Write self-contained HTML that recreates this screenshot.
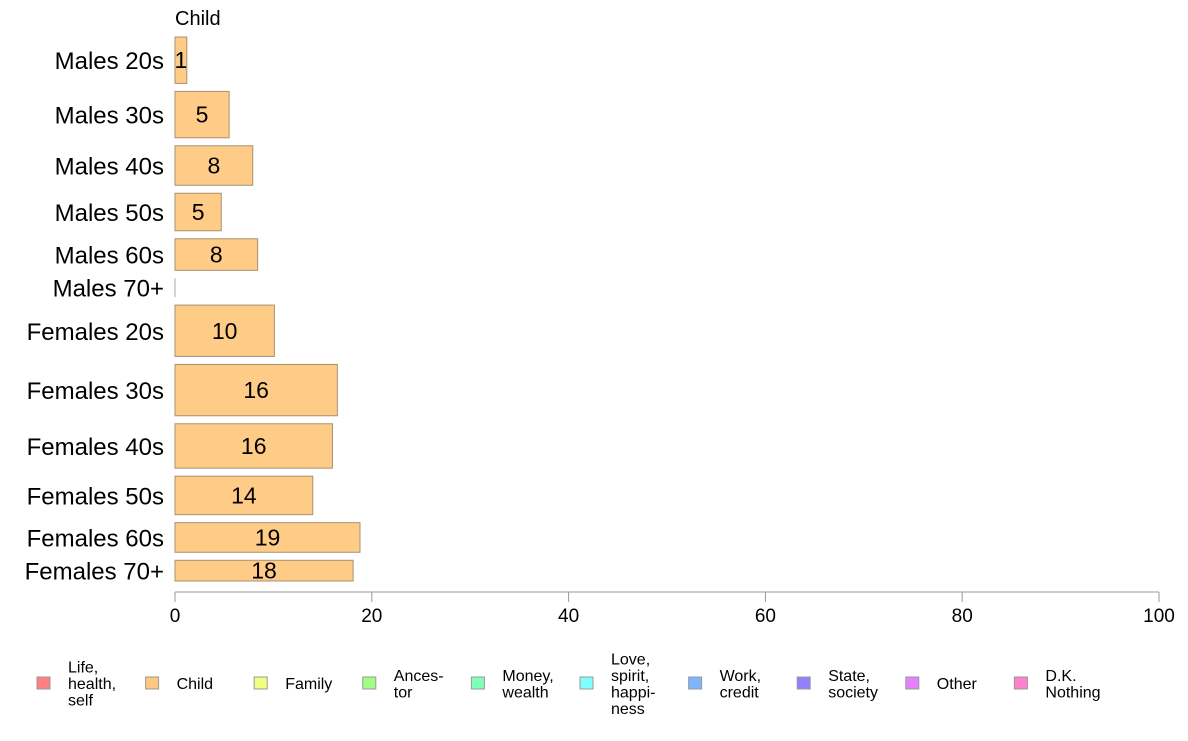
<!DOCTYPE html>
<html><head><meta charset="utf-8"><style>
body{margin:0;background:#fff}
svg text{font-family:"Liberation Sans",Arial,sans-serif;fill:#000}
</style></head><body>
<svg id="chart" width="1188" height="736" xmlns="http://www.w3.org/2000/svg"></svg>
<script>
const categories=["Males 20s","Males 30s","Males 40s","Males 50s","Males 60s","Males 70+","Females 20s","Females 30s","Females 40s","Females 50s","Females 60s","Females 70+"];
const values=[1.2,5.5,7.9,4.7,8.4,0,10.1,16.5,16.0,14.0,18.8,18.1];
const valueLabels=["1","5","8","5","8","","10","16","16","14","19","18"];
const sampleSizes=[47,47,40,38,32,19,52,52,45,39,30,21];
const ticks=[0,20,40,60,80,100];
const legendLabels=[["Life,","health,","self"],["Child"],["Family"],["Ances-","tor"],["Money,","wealth"],["Love,","spirit,","happi-","ness"],["Work,","credit"],["State,","society"],["Other"],["D.K.","Nothing"]];
const legendColors=["#ff8080","#ffc880","#f0ff80","#a0ff80","#80ffb8","#80ffff","#80b4ff","#9080ff","#e680ff","#ff80cc"];

const NS="http://www.w3.org/2000/svg";
const svg=document.getElementById("chart");
function mk(tag,attrs,parent){const e=document.createElementNS(NS,tag);for(const k in attrs)e.setAttribute(k,attrs[k]);(parent||svg).appendChild(e);return e;}
const x0=175,x1=1159,yTop=37,yBot=581,gap=8;
const xs=v=>x0+(v/100)*(x1-x0);
const total=sampleSizes.reduce((a,b)=>a+b,0);
const scale=(yBot-yTop-gap*(sampleSizes.length-1))/total;

const t=mk("text",{x:175,y:25,"font-size":20});


t.textContent="Child";

let y=yTop;
categories.forEach((c,i)=>{
  const h=sampleSizes[i]*scale;
  const w=xs(values[i])-x0;
  if(values[i]>0){
    const r=mk("rect",{x:x0,y:y,width:w,height:h,fill:"#ffcc88",stroke:"#a89070","stroke-width":1});
    
    
    const vl=mk("text",{x:x0+w/2,y:y+h/2+8,"font-size":23,"text-anchor":"middle"});
    
    
    vl.textContent=valueLabels[i];
  } else {
    const l=mk("line",{x1:x0,x2:x0,y1:y,y2:y+h,stroke:"#aaa"});
    
    
  }
  const cl=mk("text",{x:164,y:y+h/2+9,"font-size":24,"text-anchor":"end"});
  
  
  cl.textContent=c;
  y+=h+gap;
});

const ax=mk("line",{x1:x0,x2:x1,y1:592,y2:592,stroke:"#999"});


ticks.forEach(v=>{
  const tk=mk("line",{x1:xs(v),x2:xs(v),y1:592,y2:602,stroke:"#999"});
  
  
  const tl=mk("text",{x:xs(v),y:622,"font-size":19,"text-anchor":"middle"});
  
  
  tl.textContent=v;
});

legendLabels.forEach((lab,i)=>{
  const lx=37+i*108.6;
  const g=mk("g",{});
  
  
  mk("rect",{x:lx,y:677,width:13,height:12,fill:legendColors[i],stroke:"#999","stroke-width":1},g);
  const n=lab.length, lh=16.5;
  lab.forEach((s,j)=>{
    const tx=mk("text",{x:lx+31,y:689+(j-(n-1)/2)*lh,"font-size":16},g);
    tx.textContent=s;
  });
});
</script>
</body></html>
